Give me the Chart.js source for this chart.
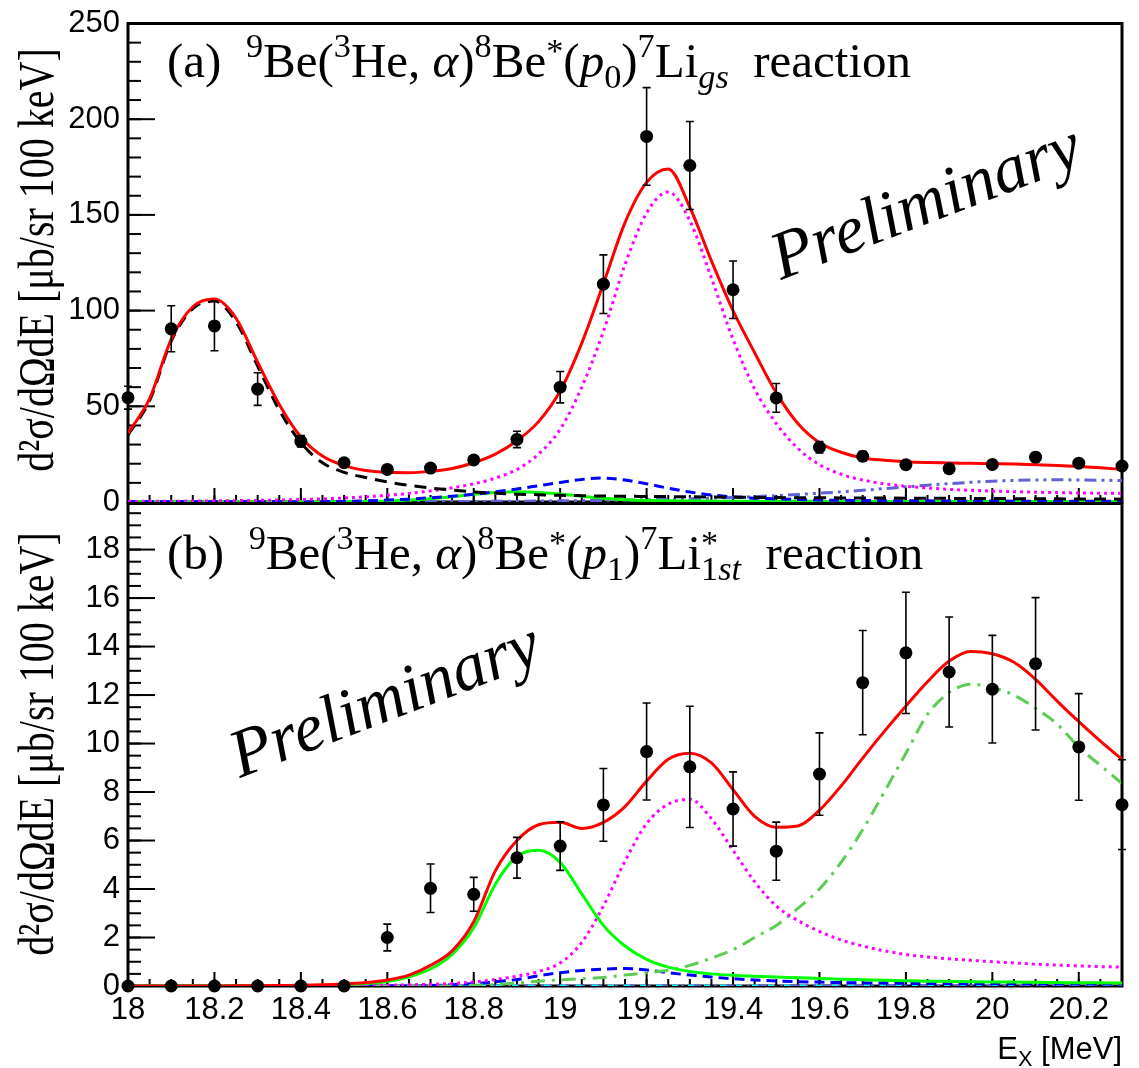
<!DOCTYPE html>
<html><head><meta charset="utf-8">
<script src="https://cdn.jsdelivr.net/npm/chart.js@4.4.1/dist/chart.umd.min.js"></script>
<style>
html,body{margin:0;padding:0;background:#fff;}
#wrap{position:relative;width:1139px;height:1068px;overflow:hidden;background:#fff;}
#topBox{position:absolute;left:0;top:0;width:1139px;height:540px;}
#botBox{position:absolute;left:0;top:480px;width:1139px;height:588px;}
canvas{display:block;}
</style></head><body>
<div id="wrap">
<div id="topBox"><canvas id="cTop" width="1139" height="540"></canvas></div>
<div id="botBox"><canvas id="cBot" width="1139" height="588"></canvas></div>
</div>
<script>
// ---------------- data ----------------
const pointX = [18.0,18.1,18.2,18.3,18.4,18.5,18.6,18.7,18.8,18.9,19.0,19.1,19.2,19.3,19.4,19.5,19.6,19.7,19.8,19.9,20.0,20.1,20.2,20.3];
const topY   = [54.5,90.5,92,59,31.7,20.5,17,17.7,22,32.7,60,113.8,191,175.8,110.9,54.4,28.6,23.9,19.5,17.4,19.6,23.4,20.3,18.8];
const topErr = [6,12,13,8.5,3,1.5,1.3,1.3,1.7,4.3,8.2,15.3,25.5,23,15,7.5,3,2.5,2,1.8,2,2.5,2,2];
const botY   = [0,0,0,0,0,0,2.0,4.03,3.78,5.29,5.77,7.47,9.67,9.04,7.3,5.56,8.74,12.51,13.74,12.95,12.24,13.29,9.86,7.48];
const botErr = [0,0,0,0,0,0,0.55,1.0,0.7,0.84,1.0,1.5,2.0,2.5,1.53,1.2,1.7,2.15,2.5,2.27,2.22,2.73,2.2,1.85];

const curveX = [18.00,18.05,18.10,18.15,18.20,18.25,18.30,18.35,18.40,18.45,18.50,18.55,18.60,18.65,18.70,18.75,18.80,18.85,18.90,18.95,
                19.00,19.05,19.10,19.15,19.20,19.25,19.30,19.35,19.40,19.45,19.50,19.55,19.60,19.65,19.70,19.75,19.80,19.85,19.90,19.95,
                20.00,20.05,20.10,20.15,20.20,20.25,20.30];

// panel (a)
const topTotal   = [36,54,85,102,106,96,73,51,34,24,19,16.5,15.5,15.3,16,17.5,20.5,25,32,42,58,83,114,146,167,174,154,126,100,78,57,41,31,26,23,21.8,21,20.6,20.4,20.2,20,19.8,19.5,19.1,18.6,17.9,17];
const topBackground = [35,53,84,101,105,94,71,48,31,20.5,15.5,12.8,10.5,8.7,7.3,6.2,5.3,4.6,4.1,3.8,3.5,3.3,3.1,3.0,2.9,2.8,2.7,2.6,2.5,2.4,2.3,2.25,2.2,2.15,2.1,2.05,2.0,1.95,1.9,1.85,1.8,1.75,1.7,1.65,1.6,1.55,1.5];
const topMagenta = [0.3,0.35,0.4,0.5,0.6,0.7,0.85,1.0,1.3,1.6,2.1,2.7,3.5,4.5,5.8,7.4,9.5,12.5,17,25,38,60,89,124,151,162,147,117,85,59,41,28,19.5,14.5,11.5,9.5,8.2,7.3,6.6,6.1,5.7,5.4,5.1,4.9,4.7,4.6,4.5];
const topBlue    = [0.1,0.1,0.1,0.1,0.1,0.1,0.1,0.1,0.15,0.2,0.3,0.6,1.0,1.5,2.2,3.0,4.0,5.3,6.8,8.5,10.2,11.8,12.5,11.5,9.5,7.2,5.2,3.7,2.7,2.0,1.6,1.3,1.0,0.9,0.8,0.7,0.65,0.6,0.55,0.5,0.5,0.45,0.45,0.4,0.4,0.4,0.4];
const topGreen   = [0.1,0.1,0.1,0.1,0.1,0.1,0.1,0.1,0.1,0.15,0.2,0.3,0.5,1.0,1.7,2.7,4.0,5.0,5.4,5.0,4.2,3.0,1.9,1.2,0.8,0.6,0.5,0.45,0.4,0.38,0.36,0.34,0.32,0.3,0.29,0.28,0.27,0.26,0.25,0.24,0.23,0.22,0.22,0.21,0.21,0.2,0.2];
const topSlate   = [0.3,0.3,0.3,0.3,0.3,0.3,0.3,0.3,0.3,0.3,0.3,0.3,0.3,0.3,0.3,0.3,0.3,0.35,0.4,0.5,0.6,0.7,0.85,1.0,1.2,1.4,1.7,2.0,2.4,2.8,3.3,3.9,4.6,5.3,6.1,7.0,7.9,8.8,9.6,10.3,10.9,11.3,11.5,11.6,11.5,11.4,11.2];

// panel (b)
const botTotal   = [0,0,0,0,0,0.01,0.01,0.02,0.03,0.05,0.08,0.14,0.25,0.45,0.85,1.45,2.65,4.75,6.0,6.65,6.75,6.5,6.75,7.4,8.45,9.35,9.6,9.2,8.1,7.0,6.55,6.6,7.25,8.25,9.4,10.5,11.55,12.55,13.4,13.8,13.7,13.35,12.65,11.75,10.9,10.1,9.35];
const botGreen   = [0,0,0,0,0,0,0,0,0.01,0.03,0.06,0.1,0.18,0.38,0.7,1.3,2.4,4.2,5.35,5.6,5.1,3.8,2.5,1.65,1.1,0.78,0.6,0.5,0.44,0.4,0.37,0.34,0.31,0.28,0.26,0.24,0.22,0.2,0.19,0.18,0.17,0.16,0.15,0.14,0.13,0.13,0.12];
const botMagenta = [0,0,0,0,0,0,0,0,0,0,0.01,0.02,0.03,0.05,0.07,0.1,0.17,0.27,0.4,0.6,0.95,1.8,3.3,5.15,6.7,7.5,7.7,6.9,5.6,4.3,3.3,2.7,2.25,1.9,1.65,1.45,1.3,1.2,1.12,1.06,1.0,0.95,0.9,0.86,0.83,0.8,0.78];
const botDashDot = [0,0,0,0,0,0,0,0,0,0,0,0,0,0,0,0,0.03,0.06,0.12,0.2,0.25,0.3,0.35,0.45,0.55,0.65,0.85,1.15,1.5,2.0,2.5,3.2,4.0,5.1,6.45,8.0,9.6,11.2,12.1,12.45,12.3,12.0,11.45,10.8,9.85,9.1,8.35];
const botBlue    = [0,0,0,0,0,0,0,0,0,0,0,0,0,0,0.02,0.05,0.1,0.17,0.27,0.42,0.55,0.64,0.7,0.72,0.66,0.55,0.45,0.37,0.3,0.25,0.21,0.18,0.16,0.14,0.13,0.12,0.11,0.1,0.1,0.09,0.09,0.09,0.08,0.08,0.08,0.08,0.08];
const botSlate   = [0,0,0,0,0,0,0,0,0,0,0,0,0,0,0,0,0,0,0,0,0,0,0,0,0,0,0,0,0,0,0,0,0,0,0,0,0,0,0,0,0,0,0,0,0,0,0];
const botCyan    = [0,0,0,0,0,0,0,0,0,0,0,0,0,0,0,0,0,0,0,0,0,0,0,0,0,0,0,0,0,0,0,0,0,0,0,0,0,0,0,0,0,0,0,0,0,0,0];

const xTicks = [18,18.2,18.4,18.6,18.8,19,19.2,19.4,19.6,19.8,20,20.2];
const xTickLabels = ['18','18.2','18.4','18.6','18.8','19','19.2','19.4','19.6','19.8','20','20.2'];
const yTicksTop = [0,50,100,150,200,250];
const yTickLabelsTop = ['0','50','100','150','200','250'];
const yTicksBot = [0,2,4,6,8,10,12,14,16,18];
const yTickLabelsBot = ['0','2','4','6','8','10','12','14','16','18'];

const yTitle = 'd\u00B2\u03C3/d\u03A9dE [\u03BCb/sr 100 keV]';

// ---------------- helpers ----------------
const SANS = "'Liberation Sans', Arial, Helvetica, sans-serif";
const SERIF = "'Liberation Serif', 'Times New Roman', serif";

function lineDS(label, ys, color, dash, width) {
  return {type:'line', label, data: curveX.map((x,i)=>({x, y: ys[i]})),
    borderColor: color, borderWidth: width || 3, borderDash: dash || [],
    borderCapStyle:'butt', pointRadius:0, pointHoverRadius:0, fill:false,
    cubicInterpolationMode:'monotone'};
}
function pointDS(ys, errs) {
  return {type:'scatter', label:'data', data: pointX.map((x,i)=>({x, y: ys[i]})), errors: errs,
    pointRadius:6.5, pointHoverRadius:6.5, pointBackgroundColor:'#000', pointBorderColor:'#000', pointBorderWidth:0,
    showLine:false, clip:false};
}

function framePlugin(cfg) {
  return {
    id:'rootFrame',
    beforeDatasetsDraw(chart) {
      const {ctx, chartArea:a, scales:{x, y}} = chart;
      ctx.save();
      ctx.strokeStyle = '#000';
      ctx.lineWidth = 2;
      const draw = (scale, values, len, isX) => {
        values.forEach(v => {
          const p = scale.getPixelForValue(v);
          ctx.beginPath();
          if (isX) { ctx.moveTo(p, a.bottom); ctx.lineTo(p, a.bottom - len); }
          else { ctx.moveTo(a.left, p); ctx.lineTo(a.left + len, p); }
          ctx.stroke();
        });
      };
      const minors = (scale, step) => {
        const out = [];
        const n0 = Math.ceil(scale.min/step - 1e-6), n1 = Math.floor(scale.max/step + 1e-6);
        for (let n = n0; n <= n1; n++) out.push(n*step);
        return out;
      };
      draw(x, minors(x, cfg.xMinor), 7, true);
      draw(x, x.ticks.map(t=>t.value), 14, true);
      draw(y, minors(y, cfg.yMinor), 13, false);
      draw(y, y.ticks.map(t=>t.value), 27, false);
      ctx.lineWidth = 3;
      ctx.strokeRect(a.left, a.top, a.right - a.left, a.bottom - a.top);
      ctx.restore();
    }
  };
}

const errorPlugin = {
  id:'errorBars',
  afterDatasetsDraw(chart) {
    const {ctx, scales:{x, y}} = chart;
    chart.data.datasets.forEach(ds => {
      if (!ds.errors) return;
      ctx.save();
      ctx.strokeStyle = '#000'; ctx.lineWidth = 1.6;
      ds.data.forEach((pt, j) => {
        const e = ds.errors[j];
        if (!e) return;
        const px = x.getPixelForValue(pt.x);
        const lo = y.getPixelForValue(pt.y - e), hi = y.getPixelForValue(pt.y + e);
        ctx.beginPath();
        ctx.moveTo(px, lo); ctx.lineTo(px, hi);
        ctx.moveTo(px-4, lo); ctx.lineTo(px+4, lo);
        ctx.moveTo(px-4, hi); ctx.lineTo(px+4, hi);
        ctx.stroke();
      });
      ctx.restore();
    });
  }
};

function drawRich(ctx, segs, x, y, size, family, align) {
  const measure = () => {
    let w = 0;
    for (const s of segs) {
      const k = s.s ? 0.7 : 1;
      ctx.font = (s.it ? 'italic ' : '') + (size*k) + 'px ' + family;
      if (!s.noAdv) w += ctx.measureText(s.t).width;
    }
    return w;
  };
  let cx = x;
  if (align === 'right') cx = x - measure();
  ctx.textBaseline = 'alphabetic';
  ctx.textAlign = 'left';
  ctx.fillStyle = '#000';
  for (const s of segs) {
    const k = s.s ? 0.7 : 1;
    ctx.font = (s.it ? 'italic ' : '') + (size*k) + 'px ' + family;
    const dy = s.s === 'sup' ? -(s.up || 0.4)*size : s.s === 'sub' ? 0.22*size : 0;
    ctx.fillText(s.t, cx, y + dy);
    if (!s.noAdv) cx += ctx.measureText(s.t).width;
  }
}

const titleA = [
  {t:'(a)  '}, {t:'9', s:'sup'}, {t:'Be('}, {t:'3', s:'sup'}, {t:'He, '}, {t:'\u03B1', it:1}, {t:')'},
  {t:'8', s:'sup'}, {t:'Be'}, {t:'*', s:'sup', up:0.3}, {t:'('}, {t:'p', it:1}, {t:'0', s:'sub'}, {t:')'},
  {t:'7', s:'sup'}, {t:'Li'}, {t:'gs', it:1, s:'sub'}, {t:'  reaction'}
];
const titleB = [
  {t:'(b)  '}, {t:'9', s:'sup'}, {t:'Be('}, {t:'3', s:'sup'}, {t:'He, '}, {t:'\u03B1', it:1}, {t:')'},
  {t:'8', s:'sup'}, {t:'Be'}, {t:'*', s:'sup', up:0.3}, {t:'('}, {t:'p', it:1}, {t:'1', s:'sub'}, {t:')'},
  {t:'7', s:'sup'}, {t:'Li'}, {t:'*', s:'sup', up:0.3, noAdv:1}, {t:'1', s:'sub'}, {t:'st', it:1, s:'sub'}, {t:'  reaction'}
];
const xTitle = [{t:'E'}, {t:'X', s:'sub'}, {t:' [MeV]'}];

function textPlugin(offsetY, items) {
  return {
    id:'annot',
    afterDraw(chart) {
      const ctx = chart.ctx;
      ctx.save();
      items.forEach(it => {
        if (it.rich) {
          drawRich(ctx, it.rich, it.x, it.y - offsetY, it.size, it.family, it.align);
        } else {
          ctx.save();
          ctx.translate(it.x, it.y - offsetY);
          ctx.rotate(-it.angle * Math.PI / 180);
          if (it.sx) ctx.scale(it.sx, 1);
          ctx.font = it.font;
          ctx.fillStyle = '#000';
          ctx.textBaseline = 'alphabetic';
          ctx.textAlign = it.align || 'left';
          ctx.fillText(it.text, 0, 0);
          ctx.restore();
        }
      });
      ctx.restore();
    }
  };
}

function makeOptions(yTicks, yLabels, yMax, xHeight, padTop, showXLabels) {
  return {
    responsive:false, animation:false, devicePixelRatio:1,
    layout:{padding:{left:0, right:17, top:padTop, bottom:0}},
    plugins:{legend:{display:false}, tooltip:{enabled:false}},
    events:[],
    scales:{
      x:{type:'linear', min:18, max:20.3,
         grid:{display:false, drawTicks:false}, border:{display:false},
         afterBuildTicks: s => { s.ticks = xTicks.map(v=>({value:v})); },
         afterFit: s => { s.height = xHeight; },
         ticks:{display:showXLabels, autoSkip:false, maxRotation:0, padding:9, color:'#000',
                font:{family:SANS, size:31, lineHeight:1},
                callback:(v, i) => xTickLabels[i]}},
      y:{type:'linear', min:0, max:yMax,
         grid:{display:false, drawTicks:false}, border:{display:false},
         afterBuildTicks: s => { s.ticks = yTicks.map(v=>({value:v})); },
         afterFit: s => { s.width = 128; },
         ticks:{padding:8, color:'#000', font:{family:SANS, size:31, lineHeight:1},
                callback:(v, i) => yLabels[i]}}
    }
  };
}

// ---------------- top chart ----------------
new Chart(document.getElementById('cTop'), {
  type:'line',
  data:{datasets:[
    pointDS(topY, topErr),
    lineDS('total', topTotal, '#ff0000', [], 3),
    lineDS('background', topBackground, '#000000', [12,8], 3),
    lineDS('p0 peak', topMagenta, '#ff00ff', [3,4], 3),
    lineDS('blue', topBlue, '#0000ff', [10,6], 3),
    lineDS('green', topGreen, '#00ff00', [], 3),
    lineDS('slate', topSlate, 'rgb(96,96,216)', [12,5,3,5,3,5], 3)
  ]},
  options: makeOptions(yTicksTop, yTickLabelsTop, 250, 38, 18, false),
  plugins:[framePlugin({xMinor:0.05, yMinor:10}), errorPlugin,
    textPlugin(0, [
      {rich:titleA, x:167, y:77, size:49, family:SERIF},
      {text:'Preliminary', x:781, y:280, angle:21, font:"italic 68px " + SERIF},
      {text:yTitle, x:53, y:260, angle:90, sx:0.8, font:"50px " + SERIF, align:'center'}
    ])]
});

// ---------------- bottom chart ----------------
new Chart(document.getElementById('cBot'), {
  type:'line',
  data:{datasets:[
    pointDS(botY, botErr),
    lineDS('total', botTotal, '#ff0000', [], 3),
    lineDS('green', botGreen, '#00ff00', [], 3),
    lineDS('p1 peak', botMagenta, '#ff00ff', [3,4], 3),
    lineDS('dashdot', botDashDot, 'rgb(92,204,84)', [14,7,3,7], 3),
    lineDS('blue', botBlue, '#0000ff', [10,6], 3),
    lineDS('cyan', botCyan, '#00ffff', [6,10], 3),
    lineDS('slate', botSlate, 'rgb(96,96,216)', [12,5,3,5,3,5], 3)
  ]},
  options: makeOptions(yTicksBot, yTickLabelsBot, 19.9, 82, 22, true),
  plugins:[framePlugin({xMinor:0.05, yMinor:0.5}), errorPlugin,
    textPlugin(480, [
      {rich:titleB, x:167, y:569, size:49, family:SERIF},
      {text:'Preliminary', x:240, y:778, angle:21, font:"italic 68px " + SERIF},
      {text:yTitle, x:53, y:744, angle:90, sx:0.8, font:"50px " + SERIF, align:'center'},
      {rich:xTitle, x:1122, y:1059, size:31, family:SANS, align:'right'}
    ])]
});
</script>
</body></html>
